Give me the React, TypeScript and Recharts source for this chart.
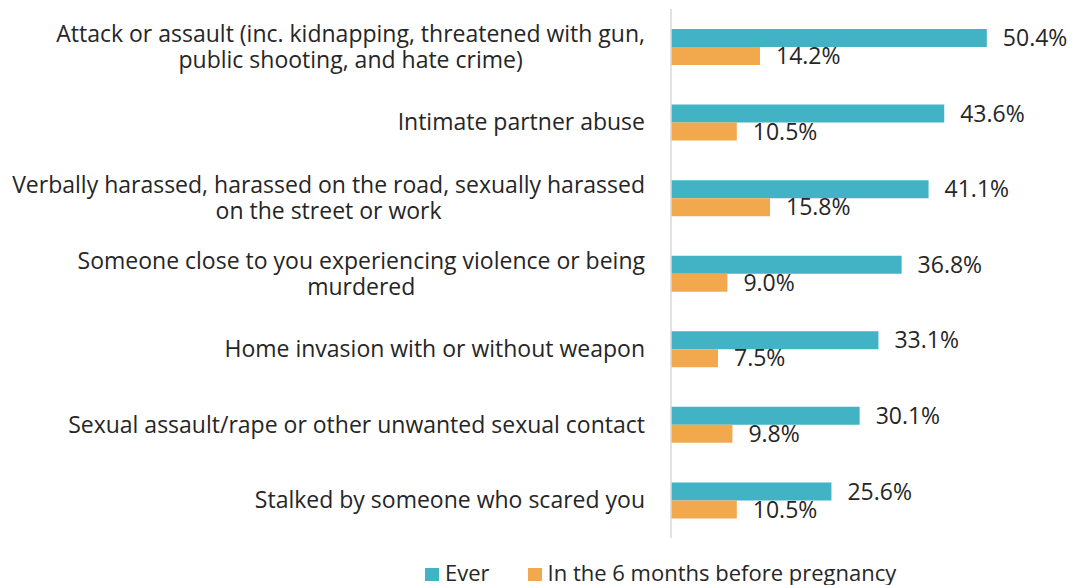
import { BarChart, Bar, XAxis, YAxis, LabelList } from "recharts";

const categories = [
  "Attack or assault (inc. kidnapping, threatened with gun, public shooting, and hate crime)",
  "Intimate partner abuse",
  "Verbally harassed, harassed on the road, sexually harassed on the street or work",
  "Someone close to you experiencing violence or being murdered",
  "Home invasion with or without weapon",
  "Sexual assault/rape or other unwanted sexual contact",
  "Stalked by someone who scared you",
];
const ever = [50.4, 43.6, 41.1, 36.8, 33.1, 30.1, 25.6];
const before = [14.2, 10.5, 15.8, 9.0, 7.5, 9.8, 10.5];
const seriesNames = ["Ever", "In the 6 months before pregnancy"];

const data = categories.map((name, i) => ({ name, ever: ever[i], before: before[i] }));

const FONT = "'Open Sans', 'Liberation Sans', sans-serif";
const FONT_SIZE = 23;
const TEXT = "#262626";
const TEAL = "#41B3C4";
const ORANGE = "#F2A94E";

let ctx: CanvasRenderingContext2D | null = null;
function measure(s: string) {
  if (!ctx) ctx = document.createElement("canvas").getContext("2d");
  ctx!.font = `${FONT_SIZE}px ${FONT}`;
  return ctx!.measureText(s).width;
}

function wrap(text: string, maxWidth: number) {
  const words = text.split(" ");
  const lines: string[] = [];
  let cur = "";
  for (const w of words) {
    const next = cur ? cur + " " + w : w;
    if (cur && measure(next) > maxWidth) {
      lines.push(cur);
      cur = w;
    } else cur = next;
  }
  if (cur) lines.push(cur);
  return lines;
}

// wrapped label, block right-aligned to the axis, lines centred on each other
function CategoryTick(props: any) {
  const { x, y, payload } = props;
  const lines = wrap(payload.value, 648);
  const widest = Math.max(...lines.map(measure));
  const cx = x - 18 - widest / 2;
  const lh = 26;
  const top = y - ((lines.length - 1) * lh) / 2;
  return (
    <text textAnchor="middle" fill={TEXT} fontSize={FONT_SIZE} fontFamily={FONT}>
      {lines.map((l, i) => (
        <tspan key={i} x={cx} y={top + i * lh} dy="0.35em">
          {l}
        </tspan>
      ))}
    </text>
  );
}

function ChartLegend() {
  const colors = [TEAL, ORANGE];
  return (
    <div
      style={{
        position: "absolute",
        left: 425,
        top: 561,
        display: "flex",
        gap: 38,
        fontFamily: FONT,
        fontSize: 22,
        color: TEXT,
        lineHeight: "22px",
        whiteSpace: "nowrap",
      }}
    >
      {seriesNames.map((label, i) => (
        <div key={label} style={{ display: "flex", alignItems: "center", gap: 6 }}>
          <span
            style={{
              width: 14,
              height: 13,
              background: colors[i],
              display: "inline-block",
              position: "relative",
              top: 2,
            }}
          />
          <span>{label}</span>
        </div>
      ))}
    </div>
  );
}

const pct = (v: any) => `${Number(v).toFixed(1)}%`;

export default function App() {
  return (
    <div
      style={{
        position: "absolute",
        left: 0,
        top: 0,
        width: 1073,
        height: 585,
        background: "#fff",
        overflow: "hidden",
      }}
    >
      <BarChart
        width={1073}
        height={585}
        data={data}
        layout="vertical"
        margin={{ top: 9, right: 26, bottom: 47, left: 0 }}
        barGap={0}
        barSize={18}
      >
        <XAxis type="number" domain={[0, 60]} hide />
        <YAxis
          type="category"
          dataKey="name"
          width={671}
          axisLine={{ stroke: "#D9D9D9", strokeWidth: 1.5 }}
          tickLine={false}
          tick={<CategoryTick />}
          interval={0}
        />
        <Bar dataKey="ever" name={seriesNames[0]} fill={TEAL} isAnimationActive={false}>
          <LabelList
            dataKey="ever"
            position="right"
            offset={16}
            formatter={pct}
            fill={TEXT}
            fontSize={FONT_SIZE}
            fontFamily={FONT}
          />
        </Bar>
        <Bar dataKey="before" name={seriesNames[1]} fill={ORANGE} isAnimationActive={false}>
          <LabelList
            dataKey="before"
            position="right"
            offset={16}
            formatter={pct}
            fill={TEXT}
            fontSize={FONT_SIZE}
            fontFamily={FONT}
          />
        </Bar>
      </BarChart>
      <ChartLegend />
    </div>
  );
}
